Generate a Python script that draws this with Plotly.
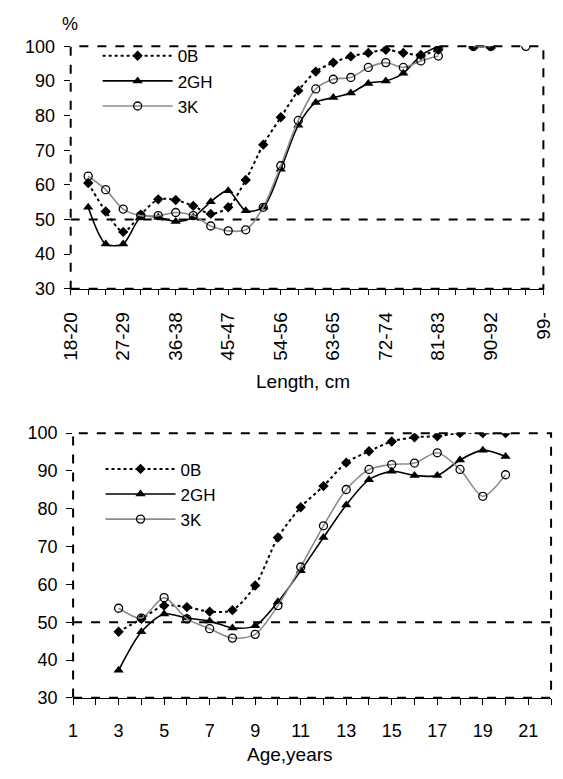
import plotly.graph_objects as go

# ---------------- data ----------------
length_classes = ["18-20", "21-23", "24-26", "27-29", "30-32", "33-35", "36-38", "39-41",
                  "42-44", "45-47", "48-50", "51-53", "54-56", "57-59", "60-62", "63-65",
                  "66-68", "69-71", "72-74", "75-77", "78-80", "81-83", "84-86", "87-89",
                  "90-92", "93-95", "96-98", "99-"]
ob_len = [None, 60.5, 52.3, 46.4, 51.4, 55.8, 55.6, 53.9, 51.6, 53.5, 61.4, 71.6, 79.5, 87.2,
          92.7, 95.3, 97.1, 98.1, 99.0, 98.1, 97.5, 99.0, None, 100, 100, None, None, None]
gh_len = [None, 53.5, 42.9, 42.9, 50.6, 50.6, 49.4, 50.6, 55.1, 58.3, 52.5, 53.5, 64.5, 77.2,
          83.8, 85.2, 86.5, 89.3, 90.0, 92.2, 97.4, 100, None, 100, 100, None, None, None]
k_len = [None, 62.5, 58.6, 53.0, 51.1, 51.1, 52.0, 51.1, 48.1, 46.7, 47.0, 53.5, 65.5, 78.6,
         87.7, 90.5, 91.0, 93.9, 95.3, 93.9, 95.8, 97.2, None, 100, 100, None, 100, None]

ages = [3, 4, 5, 6, 7, 8, 9, 10, 11, 12, 13, 14, 15, 16, 17, 18, 19, 20]
ob_age = [47.5, 50.9, 54.4, 54.0, 52.8, 53.2, 59.7, 72.4, 80.4, 86.0, 92.2, 95.2, 97.8, 98.9,
          99.2, 100, 100, 100]
gh_age = [37.3, 47.5, 52.2, 51.1, 50.3, 48.5, 49.1, 55.4, 63.6, 72.4, 81.0, 87.7, 89.9, 88.8,
          88.8, 92.9, 95.5, 93.8]
k_age = [53.7, 51.1, 56.5, 50.9, 48.3, 45.8, 46.8, 54.4, 64.6, 75.5, 85.1, 90.4, 91.7, 92.1,
         94.8, 90.4, 83.3, 89.0]

age_ticks = list(range(1, 23))
y_ticks = [30, 40, 50, 60, 70, 80, 90, 100]
series_names = ["0B", "2GH", "3K"]

FONT = "Liberation Sans, Arial, sans-serif"
W, H = 563, 779

styles = [
    dict(line=dict(color="black", width=2, dash="dot", shape="spline", smoothing=0.8),
         marker=dict(symbol="diamond", size=8, color="black")),
    dict(line=dict(color="black", width=1.6, shape="spline", smoothing=0.8),
         marker=dict(symbol="triangle-up", size=9, color="black")),
    dict(line=dict(color="#8c8c8c", width=1.6, shape="spline", smoothing=0.8),
         marker=dict(symbol="circle-open", size=8, color="black", line=dict(width=1.3))),
]

fig = go.Figure()

for name, vals, st in zip(series_names, [ob_len, gh_len, k_len], styles):
    fig.add_trace(go.Scatter(x=length_classes, y=vals, name=name, mode="lines+markers",
                             connectgaps=False, xaxis="x", yaxis="y", legend="legend", **st))

for name, vals, st in zip(series_names, [ob_age, gh_age, k_age], styles):
    fig.add_trace(go.Scatter(x=ages, y=vals, name=name, mode="lines+markers",
                             connectgaps=False, xaxis="x2", yaxis="y2", legend="legend2", **st))

# pixel -> paper helpers for layout
def px(x):
    return x / W

def py(y):
    return 1 - y / H

top_dom_x = [px(62), px(553)]
top_dom_y = [py(286), py(37.3)]
bot_dom_x = [px(64.5), px(561)]
bot_dom_y = [py(706), py(434.3)]

len_ticktext = [c if i % 3 == 0 else "" for i, c in enumerate(length_classes)]
age_ticktext = [str(a) if a % 2 == 1 else "" for a in age_ticks]

common_y = dict(range=[30, 100], tickmode="array", tickvals=y_ticks, ticks="outside",
                ticklen=6, tickcolor="black", showgrid=False, zeroline=False, showline=False,
                tickfont=dict(family=FONT, size=18, color="black"), ticklabelstandoff=5)

fig.update_layout(
    width=W, height=H, margin=dict(l=0, r=0, t=0, b=0),
    paper_bgcolor="white", plot_bgcolor="white",
    font=dict(family=FONT, color="black"),
    xaxis=dict(domain=top_dom_x, anchor="y", type="category", range=[0, 27],
               tickmode="array", tickvals=length_classes, ticktext=len_ticktext,
               tickangle=-90, ticks="outside", ticklen=5, tickcolor="black",
               showline=True, linecolor="black", linewidth=1, showgrid=False, zeroline=False,
               tickfont=dict(family=FONT, size=19, color="black"), ticklabelstandoff=10),
    yaxis=dict(domain=top_dom_y, anchor="x", **common_y),
    xaxis2=dict(domain=bot_dom_x, anchor="y2", range=[1, 22], tickmode="array",
                tickvals=age_ticks, ticktext=age_ticktext, ticks="outside", ticklen=6,
                tickcolor="black", showline=True, linecolor="black", linewidth=1,
                showgrid=False, zeroline=False,
                tickfont=dict(family=FONT, size=18, color="black"), ticklabelstandoff=11),
    yaxis2=dict(domain=bot_dom_y, anchor="x2", **common_y),
    legend=dict(x=px(90), y=py(29), xanchor="left", yanchor="top", bgcolor="rgba(0,0,0,0)",
                font=dict(family=FONT, size=17, color="black"), itemwidth=70,
                tracegroupgap=0),
    legend2=dict(x=px(93), y=py(453), xanchor="left", yanchor="top", bgcolor="rgba(0,0,0,0)",
                 font=dict(family=FONT, size=17, color="black"), itemwidth=70,
                 tracegroupgap=0),
    showlegend=True,
)

shapes = []
for xa, ya in [("x", "y"), ("x2", "y2")]:
    shapes.append(dict(type="rect", xref=f"{xa} domain", yref=f"{ya} domain",
                       x0=0, x1=1, y0=0, y1=1, line=dict(color="black", width=2, dash="dash"),
                       layer="below"))
    shapes.append(dict(type="line", xref=f"{xa} domain", yref=ya, x0=0, x1=1, y0=50, y1=50,
                       line=dict(color="black", width=2, dash="dash"), layer="below"))
fig.update_layout(shapes=shapes)

fig.add_annotation(text="%", xref="paper", yref="paper", x=px(61), y=py(14), showarrow=False,
                   xanchor="center", yanchor="middle",
                   font=dict(family=FONT, size=18, color="black"))
fig.add_annotation(text="Length, cm", xref="paper", yref="paper", x=px(303), y=py(381),
                   showarrow=False, xanchor="center", yanchor="middle",
                   font=dict(family=FONT, size=19, color="black"))
fig.add_annotation(text="Age,years", xref="paper", yref="paper", x=px(290), y=py(764),
                   showarrow=False, xanchor="center", yanchor="middle",
                   font=dict(family=FONT, size=19, color="black"))

fig.write_html("out.html")
